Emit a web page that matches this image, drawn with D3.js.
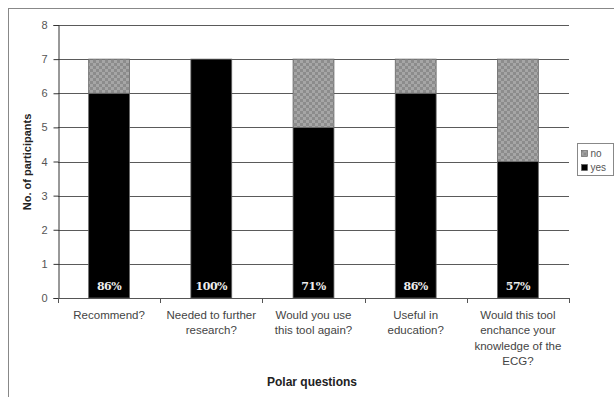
<!DOCTYPE html>
<html>
<head>
<meta charset="utf-8">
<script src="https://cdn.jsdelivr.net/npm/d3@7"></script>
<style>
  body { margin: 0; background: #fff; }
  text { font-family: Arial, "Liberation Sans", sans-serif; }
</style>
</head>
<body>
<div id="container"></div>
<script>
/* DATA */
const questions = [
  ["Recommend?"],
  ["Needed to further", "research?"],
  ["Would you use", "this tool again?"],
  ["Useful in", "education?"],
  ["Would this tool", "enchance your", "knowledge of the", "ECG?"]
];
const yesCounts = [6, 7, 5, 6, 4];
const noCounts = [1, 0, 2, 1, 3];
const pctLabels = ["86%", "100%", "71%", "86%", "57%"];
const yTicks = [0, 1, 2, 3, 4, 5, 6, 7, 8];

const width = 614, height = 397;
const margin = { top: 25, bottom: 99, left: 58, right: 45 };

const svg = d3.select("#container")
  .append("svg")
  .attr("width", width)
  .attr("height", height);

// checker pattern for "no"
const defs = svg.append("defs");
const pat = defs.append("pattern")
  .attr("id", "checker")
  .attr("patternUnits", "userSpaceOnUse")
  .attr("width", 6).attr("height", 6);
pat.append("rect").attr("width", 6).attr("height", 6).attr("fill", "#8c8c8c");
pat.append("rect").attr("width", 3).attr("height", 3).attr("fill", "#a6a6a6");
pat.append("rect").attr("x", 3).attr("y", 3).attr("width", 3).attr("height", 3).attr("fill", "#a6a6a6");

// outer frame
svg.append("rect")
  .attr("x", 8.5).attr("y", 8.5)
  .attr("width", 620).attr("height", 400)
  .attr("fill", "none").attr("stroke", "#888").attr("stroke-width", 1);

const idx = questions.map((d, i) => i);

const xScale = d3.scaleBand()
  .domain(idx)
  .range([margin.left, width - margin.right])
  .paddingInner(0.6)
  .paddingOuter(0.3);

const yScale = d3.scaleLinear()
  .domain([0, 8])
  .range([height - margin.bottom, margin.top]);

// gridlines
svg.append("g")
  .selectAll("line")
  .data(yTicks.slice(1))
  .join("line")
  .attr("x1", margin.left).attr("x2", width - margin.right)
  .attr("y1", d => Math.round(yScale(d)) + 0.5)
  .attr("y2", d => Math.round(yScale(d)) + 0.5)
  .attr("stroke", "#5a5a5a");

// y axis
const yAxis = d3.axisLeft(yScale).tickValues(yTicks).tickSize(5).tickPadding(6).tickFormat(d3.format("d"));
const gy = svg.append("g")
  .attr("transform", `translate(${margin.left + 0.5},0)`)
  .call(yAxis);
gy.select(".domain").attr("stroke", "#333");
gy.selectAll(".tick line").attr("stroke", "#333");
gy.selectAll("text").attr("font-size", 11).attr("fill", "#555").style("font-family", "Arial, 'Liberation Sans', sans-serif");

// bars
const bars = svg.append("g");
bars.selectAll("rect.yes")
  .data(idx)
  .join("rect")
  .attr("class", "yes")
  .attr("x", i => xScale(i))
  .attr("width", xScale.bandwidth())
  .attr("y", i => yScale(yesCounts[i]))
  .attr("height", i => yScale(0) - yScale(yesCounts[i]))
  .attr("fill", "#000")
  .attr("stroke", "#666").attr("stroke-width", 0.8);

bars.selectAll("rect.no")
  .data(idx.filter(i => noCounts[i] > 0))
  .join("rect")
  .attr("class", "no")
  .attr("x", i => xScale(i))
  .attr("width", xScale.bandwidth())
  .attr("y", i => yScale(yesCounts[i] + noCounts[i]))
  .attr("height", i => yScale(yesCounts[i]) - yScale(yesCounts[i] + noCounts[i]))
  .attr("fill", "url(#checker)")
  .attr("stroke", "#666").attr("stroke-width", 0.8);

// percentage labels
bars.selectAll("text.pct")
  .data(idx)
  .join("text")
  .attr("class", "pct")
  .attr("x", i => xScale(i) + xScale.bandwidth() / 2)
  .attr("y", yScale(0) - 8)
  .attr("text-anchor", "middle")
  .attr("fill", "#eee")
  .attr("font-size", 11)
  .attr("font-weight", "bold")
  .style("font-family", "Georgia, 'DejaVu Serif', 'Liberation Serif', serif")
  .style("letter-spacing", "-0.5px")
  .text(i => pctLabels[i]);

// x axis
const x0 = yScale(0);
svg.append("line")
  .attr("x1", margin.left).attr("x2", width - margin.right)
  .attr("y1", x0 + 0.5).attr("y2", x0 + 0.5)
  .attr("stroke", "#555");
const bounds = d3.range(questions.length + 1).map(k => margin.left + k * (width - margin.left - margin.right) / questions.length);
svg.append("g").selectAll("line")
  .data(bounds)
  .join("line")
  .attr("x1", d => Math.round(d) + 0.5).attr("x2", d => Math.round(d) + 0.5)
  .attr("y1", x0).attr("y2", x0 + 5)
  .attr("stroke", "#555");

const cats = svg.append("g").selectAll("text")
  .data(idx)
  .join("text")
  .attr("x", i => xScale(i) + xScale.bandwidth() / 2)
  .attr("y", x0 + 21)
  .attr("text-anchor", "middle")
  .attr("font-size", 11.5)
  .attr("fill", "#444");
cats.selectAll("tspan")
  .data(i => questions[i])
  .join("tspan")
  .attr("x", function() { return this.parentNode.getAttribute("x"); })
  .attr("dy", (d, j) => j === 0 ? 0 : 15.3)
  .text(d => d);

// axis titles
svg.append("text")
  .attr("x", 312).attr("y", 386)
  .attr("text-anchor", "middle")
  .attr("font-size", 12).attr("font-weight", "bold")
  .attr("fill", "#222")
  .text("Polar questions");

svg.append("text")
  .attr("transform", `translate(31,162) rotate(-90)`)
  .attr("text-anchor", "middle")
  .attr("font-size", 11).attr("font-weight", "bold")
  .attr("fill", "#222")
  .text("No. of participants");

// legend
const legend = svg.append("g").attr("transform", "translate(577.5,143.5)");
legend.append("rect")
  .attr("width", 36).attr("height", 32)
  .attr("fill", "#fff").attr("stroke", "#888");
const legendItems = [["no", "url(#checker)"], ["yes", "#000"]];
legendItems.forEach((d, k) => {
  legend.append("rect")
    .attr("x", 4).attr("y", 7 + k * 14)
    .attr("width", 6).attr("height", 6)
    .attr("fill", d[1]).attr("stroke", "#555").attr("stroke-width", 0.6);
  legend.append("text")
    .attr("x", 13).attr("y", 13.5 + k * 14)
    .attr("font-size", 10).attr("fill", "#555")
    .text(d[0]);
});
</script>
</body>
</html>
